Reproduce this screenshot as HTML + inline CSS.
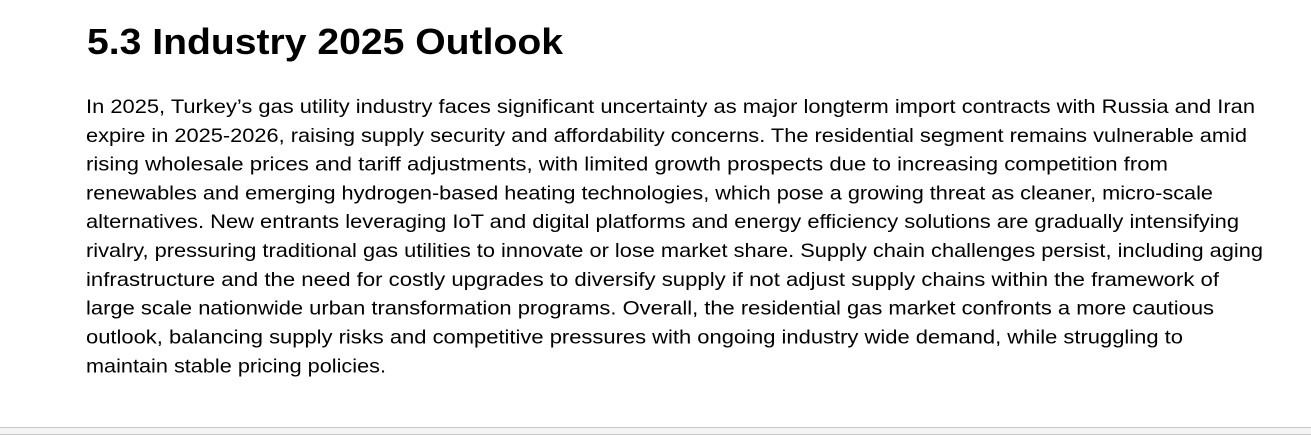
<!DOCTYPE html>
<html>
<head>
<meta charset="utf-8">
<style>
  html, body { margin:0; padding:0; background:#fff; }
  body { width:1311px; height:437px; overflow:hidden; position:relative; }
  svg { position:absolute; left:0; top:0; }
  .b { font-family:"Liberation Sans", sans-serif; font-size:19.5px; fill:#000; }
  .h { font-family:"Liberation Sans", sans-serif; font-size:36px; font-weight:bold; fill:#000; }
</style>
</head>
<body>
<svg width="1311" height="437" viewBox="0 0 1311 437" xmlns="http://www.w3.org/2000/svg">
  <rect x="0" y="0" width="1311" height="437" fill="#ffffff"/>
  <text class="h" x="87" y="54" textLength="476" lengthAdjust="spacingAndGlyphs">5.3 Industry 2025 Outlook</text>

  <text class="b" x="86" y="113" textLength="1169" lengthAdjust="spacingAndGlyphs">In 2025, Turkey’s gas utility industry faces significant uncertainty as major longterm import contracts with Russia and Iran</text>
  <text class="b" x="86" y="141.8" textLength="1161" lengthAdjust="spacingAndGlyphs">expire in 2025-2026, raising supply security and affordability concerns. The residential segment remains vulnerable amid</text>
  <text class="b" x="86" y="170.6" textLength="1082" lengthAdjust="spacingAndGlyphs">rising wholesale prices and tariff adjustments, with limited growth prospects due to increasing competition from</text>
  <text class="b" x="86" y="199.4" textLength="1127" lengthAdjust="spacingAndGlyphs">renewables and emerging hydrogen-based heating technologies, which pose a growing threat as cleaner, micro-scale</text>
  <text class="b" x="86" y="228.2" textLength="1153" lengthAdjust="spacingAndGlyphs">alternatives. New entrants leveraging IoT and digital platforms and energy efficiency solutions are gradually intensifying</text>
  <text class="b" x="86" y="257" textLength="1177" lengthAdjust="spacingAndGlyphs">rivalry, pressuring traditional gas utilities to innovate or lose market share. Supply chain challenges persist, including aging</text>
  <text class="b" x="86" y="285.8" textLength="1133" lengthAdjust="spacingAndGlyphs">infrastructure and the need for costly upgrades to diversify supply if not adjust supply chains within the framework of</text>
  <text class="b" x="86" y="314.6" textLength="1128" lengthAdjust="spacingAndGlyphs">large scale nationwide urban transformation programs. Overall, the residential gas market confronts a more cautious</text>
  <text class="b" x="86" y="343.4" textLength="1097" lengthAdjust="spacingAndGlyphs">outlook, balancing supply risks and competitive pressures with ongoing industry wide demand, while struggling to</text>
  <text class="b" x="86" y="372.4" textLength="300" lengthAdjust="spacingAndGlyphs">maintain stable pricing policies.</text>

  <rect x="0" y="427" width="1311" height="1" fill="#c8c8c8"/>
  <rect x="0" y="428" width="1311" height="6" fill="#f4f4f4"/>
  <rect x="0" y="434" width="1311" height="1" fill="#c8c8c8"/>
</svg>
</body>
</html>
